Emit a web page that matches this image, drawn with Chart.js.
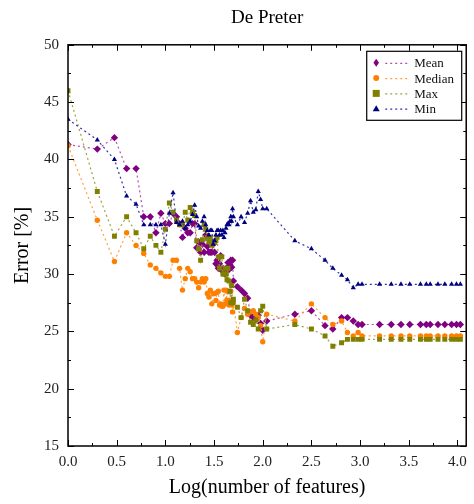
<!DOCTYPE html>
<html>
<head>
<meta charset="utf-8">
<script src="https://cdn.jsdelivr.net/npm/chart.js@4.4.1/dist/chart.umd.min.js"></script>
<style>
  html, body { margin: 0; padding: 0; background: #fff; }
</style>
</head>
<body>
<canvas id="chart" width="474" height="504"></canvas>
<script>
// log10 of the number of features
const logFeatures = [
  0, 0.301, 0.477, 0.602, 0.699, 0.778, 0.845, 0.903, 0.954, 1.0,
  1.041, 1.079, 1.114, 1.146, 1.176, 1.204, 1.230, 1.255, 1.279, 1.301,
  1.322, 1.342, 1.362, 1.380, 1.398, 1.415, 1.431, 1.447, 1.462, 1.477,
  1.491, 1.505, 1.519, 1.531, 1.544, 1.556, 1.568, 1.580, 1.591, 1.602,
  1.613, 1.623, 1.633, 1.643, 1.653, 1.663, 1.672, 1.681, 1.690, 1.699,
  1.740, 1.778, 1.813, 1.845, 1.875, 1.903, 1.929, 1.954, 1.978, 2.0,
  2.041, 2.33, 2.50, 2.64, 2.72, 2.81, 2.87, 2.93, 2.98, 3.02,
  3.20, 3.32, 3.42, 3.51, 3.62, 3.68, 3.72, 3.80, 3.87, 3.94,
  3.99, 4.03
];

const meanError = [
  41.3, 40.9, 41.9, 39.2, 39.2, 35.0, 35.0, 33.6, 35.3, 34.4,
  34.4, 35.3, 35.0, 34.4, 33.2, 34.0, 33.6, 33.6, 34.4, 34.4,
  32.3, 32.8, 31.9, 32.6, 31.9, 33.4, 32.4, 31.9, 31.9, 31.9,
  32.6, 31.9, 30.9, 31.2, 30.5, 30.9, 31.6, 30.3, 30.5, 30.2,
  30.0, 30.5, 30.5, 31.0, 30.4, 30.8, 31.2, 30.6, 31.2, 29.4,
  28.9, 28.6, 28.3, 27.9, 26.4, 26.2, 26.0, 26.4, 25.7, 25.1,
  25.9, 26.5, 26.8, 25.5, 25.2, 26.2, 26.2, 25.9, 25.6, 25.6,
  25.6, 25.6, 25.6, 25.6, 25.6, 25.6, 25.6, 25.6, 25.6, 25.6,
  25.6, 25.6
];

const medianError = [
  41.2, 34.7, 31.1, 33.6, 32.5, 31.8, 30.8, 30.5, 30.1, 29.8,
  29.8, 31.2, 31.2, 30.5, 28.6, 29.6, 30.5, 30.2, 29.6, 29.6,
  29.3, 28.8, 29.3, 29.6, 29.3, 29.6, 28.3, 28.0, 28.6, 27.4,
  28.3, 28.3, 27.7, 28.4, 28.5, 27.3, 27.4, 27.2, 27.2, 28.6,
  27.4, 28.6, 27.7, 28.5, 27.3, 27.7, 28.5, 27.3, 26.7, 27.5,
  24.9, 26.2, 27.0, 26.5, 26.7, 26.8, 26.5, 26.2, 25.5, 24.1,
  26.5, 25.9, 27.4, 26.2, 25.6, 25.9, 24.9, 24.6, 24.9, 24.6,
  24.6, 24.6, 24.6, 24.6, 24.6, 24.6, 24.6, 24.6, 24.6, 24.6,
  24.6, 24.6
];

const maxError = [
  46.0, 37.2, 33.3, 35.0, 33.6, 32.2, 33.3, 32.5, 31.9, 33.9,
  36.2, 35.4, 34.7, 34.3, 34.3, 35.4, 34.7, 35.8, 35.4, 35.1,
  32.9, 32.2, 31.2, 33.0, 34.3, 33.9, 33.2, 32.8, 33.2, 32.5,
  32.8, 32.8, 32.9, 33.2, 31.5, 30.5, 31.5, 31.5, 30.0, 30.0,
  30.5, 30.0, 29.5, 30.5, 29.4, 28.5, 27.5, 29.0, 27.5, 27.8,
  27.1, 26.2, 27.8, 26.8, 25.8, 25.6, 26.0, 25.2, 26.8, 27.2,
  25.2, 25.6, 25.2, 24.6, 23.7, 24.0, 24.3, 24.3, 24.3, 24.3,
  24.3, 24.3, 24.3, 24.3, 24.3, 24.3, 24.3, 24.3, 24.3, 24.3,
  24.3, 24.3
];

const minError = [
  43.5, 41.7, 40.0, 36.8, 36.1, 34.3, 34.3, 34.3, 34.3, 32.6,
  35.3, 37.1, 34.5, 34.3, 34.6, 34.0, 34.3, 34.6, 35.2, 36.0,
  35.0, 34.2, 34.0, 34.6, 35.0, 34.3, 33.8, 33.4, 33.8, 33.8,
  32.6, 32.9, 33.4, 33.8, 33.8, 33.4, 33.8, 33.4, 33.8, 33.2,
  33.6, 34.0, 34.3, 34.4, 34.3, 34.6, 35.0, 34.6, 35.7, 35.0,
  34.3, 35.0, 34.5, 35.3, 36.4, 35.4, 35.6, 37.2, 36.5, 35.7,
  35.7, 32.9, 32.2, 31.2, 30.5, 29.9, 29.5, 28.8, 29.1, 29.1,
  29.1, 29.1, 29.1, 29.1, 29.1, 29.1, 29.1, 29.1, 29.1, 29.1,
  29.1, 29.1
];

const seriesNames = ['Mean', 'Median', 'Max', 'Min'];
const xTicks = [0, 0.5, 1.0, 1.5, 2.0, 2.5, 3.0, 3.5, 4.0];

const serif = "'Liberation Serif', 'DejaVu Serif', serif";

function toPoints(values) {
  return values.map((v, i) => ({ x: logFeatures[i], y: v }));
}

function makeSet(label, values, marker, line, style, radius, order) {
  return {
    label: label,
    data: toPoints(values),
    borderColor: line,
    borderWidth: 1.2,
    borderDash: [2, 3],
    backgroundColor: marker,
    pointBackgroundColor: marker,
    pointBorderWidth: 0,
    pointStyle: style,
    pointRadius: radius,
    tension: 0,
    order: order,
  };
}

// inward ticks on all four sides plus the frame
const frameTicks = {
  id: 'frameTicks',
  afterDatasetsDraw(chart) {
    const { ctx, chartArea: a, scales: { x, y } } = chart;
    ctx.save();
    ctx.strokeStyle = '#000';
    ctx.lineWidth = 1;
    ctx.beginPath();
    for (let k = 0; k <= 16; k++) {
      const px = Math.round(x.getPixelForValue(k * 0.25)) + 0.5;
      const len = k % 2 === 0 ? 6 : 3;
      ctx.moveTo(px, a.bottom); ctx.lineTo(px, a.bottom - len);
      ctx.moveTo(px, a.top); ctx.lineTo(px, a.top + len);
    }
    for (let k = 0; k <= 14; k++) {
      const py = Math.round(y.getPixelForValue(15 + k * 2.5)) + 0.5;
      const len = k % 2 === 0 ? 6 : 3;
      ctx.moveTo(a.left, py); ctx.lineTo(a.left + len, py);
      ctx.moveTo(a.right, py); ctx.lineTo(a.right - len, py);
    }
    ctx.stroke();
    ctx.lineWidth = 1.5;
    ctx.strokeRect(a.left, a.top, a.right - a.left, a.bottom - a.top);
    ctx.restore();
  }
};

function drawMarker(ctx, style, cx, cy, color) {
  ctx.fillStyle = color;
  ctx.beginPath();
  if (style === 'rectRot') {
    ctx.moveTo(cx, cy - 4); ctx.lineTo(cx + 2.8, cy); ctx.lineTo(cx, cy + 4); ctx.lineTo(cx - 2.8, cy);
  } else if (style === 'circle') {
    ctx.arc(cx, cy, 3, 0, Math.PI * 2);
  } else if (style === 'rect') {
    ctx.rect(cx - 3.5, cy - 3.5, 7, 7);
  } else {
    ctx.moveTo(cx, cy - 3.5); ctx.lineTo(cx + 3.5, cy + 2.5); ctx.lineTo(cx - 3.5, cy + 2.5);
  }
  ctx.closePath();
  ctx.fill();
}

// boxed legend in the upper right corner of the plot
const boxLegend = {
  id: 'boxLegend',
  afterDraw(chart) {
    const { ctx, chartArea: a } = chart;
    const w = 95, h = 69;
    const left = a.right - w - 5, top = a.top + 6;
    ctx.save();
    ctx.fillStyle = '#fff';
    ctx.fillRect(left, top, w, h);
    ctx.strokeStyle = '#000';
    ctx.lineWidth = 1.2;
    ctx.strokeRect(left + 0.5, top + 0.5, w, h);
    ctx.font = '13px ' + serif;
    ctx.textBaseline = 'middle';
    chart.data.datasets.forEach((ds, i) => {
      const cy = top + 12 + i * 15.3;
      drawMarker(ctx, ds.pointStyle, left + 10, cy, ds.pointBackgroundColor);
      ctx.strokeStyle = ds.borderColor;
      ctx.lineWidth = 1.2;
      ctx.setLineDash([2, 3]);
      ctx.beginPath();
      ctx.moveTo(left + 19, cy + 0.5);
      ctx.lineTo(left + 43, cy + 0.5);
      ctx.stroke();
      ctx.setLineDash([]);
      ctx.fillStyle = '#111';
      ctx.fillText(ds.label, left + 48, cy + 1);
    });
    ctx.restore();
  }
};

new Chart(document.getElementById('chart').getContext('2d'), {
  type: 'line',
  data: {
    datasets: [
      makeSet(seriesNames[0], meanError, '#800080', '#b050b0', 'rectRot', 3.7, 4),
      makeSet(seriesNames[1], medianError, '#ff8000', '#ffa040', 'circle', 2.7, 3),
      makeSet(seriesNames[2], maxError, '#808000', '#a0a040', 'rect', 3.5, 2),
      makeSet(seriesNames[3], minError, '#000080', '#3030b0', 'triangle', 3, 1),
    ]
  },
  options: {
    responsive: false,
    animation: false,
    layout: { padding: { right: 5 } },
    plugins: {
      legend: { display: false },
      tooltip: { enabled: false },
      title: {
        display: true,
        fullSize: false,
        text: 'De Preter',
        color: '#000',
        font: { family: serif, size: 19, weight: 'normal' },
        padding: { top: 7, bottom: 15 }
      }
    },
    scales: {
      x: {
        type: 'linear',
        min: 0,
        max: 4.09,
        afterFit(scale) { scale.height = 58; },
        afterBuildTicks(scale) { scale.ticks = xTicks.map(v => ({ value: v })); },
        grid: { display: false, drawTicks: false },
        border: { display: false },
        ticks: {
          color: '#222',
          padding: 7,
          font: { family: serif, size: 15 },
          callback: v => v.toFixed(1)
        },
        title: {
          display: true,
          text: 'Log(number of features)',
          color: '#000',
          font: { family: serif, size: 20 },
          padding: { top: 4 }
        }
      },
      y: {
        min: 15,
        max: 50,
        afterFit(scale) { scale.width = 68; },
        grid: { display: false, drawTicks: false },
        border: { display: false },
        ticks: {
          stepSize: 5,
          color: '#222',
          padding: 9,
          font: { family: serif, size: 15 }
        },
        title: {
          display: true,
          text: 'Error [%]',
          color: '#000',
          font: { family: serif, size: 20 },
          padding: { top: 11 }
        }
      }
    }
  },
  plugins: [frameTicks, boxLegend]
});
</script>
</body>
</html>
